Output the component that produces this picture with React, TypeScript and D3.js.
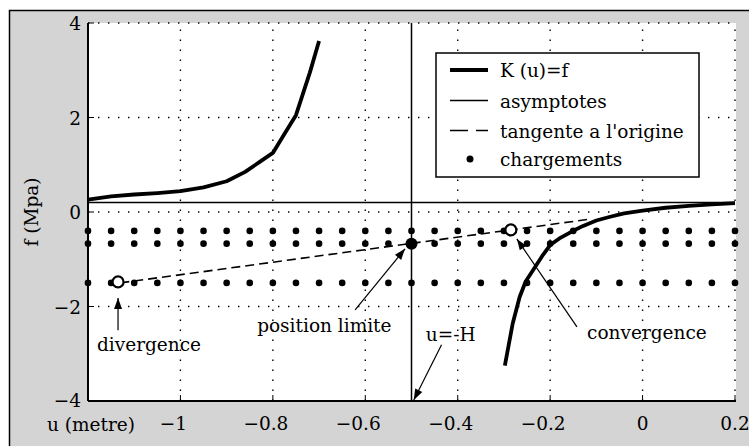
import React from 'react';
import * as d3 from 'd3';

const W = 749;
const H = 446;

// axes
const xTicks = [-1, -0.8, -0.6, -0.4, -0.2, 0, 0.2];
const yTicks = [-4, -2, 0, 2, 4];

// K(u)=f, branche gauche / branche droite
const leftBranchU = [-1.2, -1.15, -1.1, -1.05, -1.0, -0.95, -0.9, -0.86, -0.83, -0.8, -0.775, -0.75, -0.735, -0.72, -0.7];
const leftBranchF = [0.26, 0.33, 0.37, 0.4, 0.44, 0.52, 0.65, 0.85, 1.05, 1.25, 1.65, 2.05, 2.5, 2.95, 3.62];
const rightBranchU = [-0.298, -0.281, -0.266, -0.253, -0.235, -0.215, -0.2, -0.18, -0.158, -0.13, -0.1, -0.07, -0.04, 0, 0.05, 0.1, 0.15, 0.2];
const rightBranchF = [-3.25, -2.36, -1.8, -1.47, -1.2, -0.9, -0.7, -0.56, -0.44, -0.3, -0.18, -0.1, -0.03, 0.03, 0.09, 0.13, 0.16, 0.19];

// asymptotes et tangente
const asymptoteU = -0.5;
const asymptoteF = 0.2;
const tangentU = [-1.13, -0.12];
const tangentF = [-1.5, -0.16];

// chargements
const loadU = [-1.2, -1.15, -1.1, -1.05, -1.0, -0.95, -0.9, -0.85, -0.8, -0.75, -0.7, -0.65, -0.6, -0.55, -0.5,
  -0.45, -0.4, -0.35, -0.3, -0.25, -0.2, -0.15, -0.1, -0.05, 0, 0.05, 0.1, 0.15, 0.2];
const loadF = [-0.4, -0.67, -1.5];

const limitPoint: [number, number] = [-0.5, -0.67];
const divergencePoint: [number, number] = [-1.135, -1.48];
const convergencePoint: [number, number] = [-0.285, -0.38];

const legendLabels = ['K (u)=f', 'asymptotes', "tangente a l'origine", 'chargements'];

// annotations: texte (u, f) et fleche [depart, pointe]
const annotations = [
  { text: 'divergence', at: [-1.1805, -2.94], from: [-1.135, -2.5], to: [-1.135, -1.82] },
  { text: 'position limite', at: [-0.834, -2.54], from: [-0.622, -2.07], to: [-0.514, -0.78] },
  { text: 'u=-H', at: [-0.469, -2.73], from: [-0.435, -2.81], to: [-0.495, -3.98] },
  { text: 'convergence', at: [-0.12, -2.68], from: [-0.142, -2.43], to: [-0.272, -0.57] },
];

const font = 'DejaVu Serif';

const margin = { left: 88, right: 14, top: 23, bottom: 45 };

const T = (props: any) => <text fontFamily={font} fontSize={18.5} {...props} />;

const App = () => {
  const x = d3.scaleLinear().domain([-1.2, 0.2]).range([margin.left, W - margin.right]);
  const y = d3.scaleLinear().domain([-4, 4]).range([H - margin.bottom, margin.top]);
  const [x0, x1] = x.range();
  const [y0, y1] = y.range();

  const line = d3.line<[number, number]>().x(d => x(d[0])).y(d => y(d[1]));
  const left = leftBranchU.map((u, i) => [u, leftBranchF[i]] as [number, number]);
  const right = rightBranchU.map((u, i) => [u, rightBranchF[i]] as [number, number]);
  const tangent = tangentU.map((u, i) => [u, tangentF[i]] as [number, number]);

  const arrowHead = (fx: number, fy: number, tx: number, ty: number) => {
    const a = Math.atan2(ty - fy, tx - fx);
    const len = 11, hw = 4;
    const bx = tx - len * Math.cos(a), by = ty - len * Math.sin(a);
    const px = -Math.sin(a) * hw, py = Math.cos(a) * hw;
    return `${tx},${ty} ${bx + px},${by + py} ${bx - px},${by - py}`;
  };

  const fmt = (t: number) => (t < 0 ? '\u2212' + String(-t) : String(t));

  const legend = { x: 436, y: 53, w: 263, h: 124, rowY: [70, 100.5, 130.5, 159] };

  return (
    <svg width={W} height={H} style={{ position: 'absolute', left: 0, top: 0, background: '#fff' }}>
      <rect x={9.5} y={10.5} width={W} height={H} fill="#d4d4d4" stroke="#000" strokeWidth={1.5} />
      <rect x={x0} y={y1} width={x1 - x0 + 1} height={y0 - y1} fill="#fff" />

      {/* grille */}
      <g stroke="#000" strokeWidth={1.4} strokeDasharray="1.4,8.6">
        {xTicks.map(t => (
          <line key={'gx' + t} x1={x(t)} x2={x(t)} y1={y0} y2={y1} />
        ))}
        {yTicks.map(t => (
          <line key={'gy' + t} x1={x0} x2={x1} y1={y(t)} y2={y(t)} />
        ))}
      </g>

      {/* asymptotes */}
      <line x1={x0} x2={x1} y1={y(asymptoteF)} y2={y(asymptoteF)} stroke="#000" strokeWidth={1.5} />
      <line x1={x(asymptoteU)} x2={x(asymptoteU)} y1={y0} y2={y1} stroke="#000" strokeWidth={1.5} />

      {/* chargements */}
      <g fill="#000">
        {loadF.map(f => loadU.map(u => (
          <circle key={`${u}_${f}`} cx={x(u)} cy={y(f)} r={3.3} />
        )))}
      </g>

      {/* tangente */}
      <path d={line(tangent) || ''} fill="none" stroke="#000" strokeWidth={1.6} strokeDasharray="9,5" />

      {/* K(u)=f */}
      <path d={line(left) || ''} fill="none" stroke="#000" strokeWidth={3.8} strokeLinejoin="round" />
      <path d={line(right) || ''} fill="none" stroke="#000" strokeWidth={3.8} strokeLinejoin="round" />

      <circle cx={x(limitPoint[0])} cy={y(limitPoint[1])} r={6} fill="#000" />
      <circle cx={x(divergencePoint[0])} cy={y(divergencePoint[1])} r={5.5} fill="#fff" stroke="#000" strokeWidth={2.2} />
      <circle cx={x(convergencePoint[0])} cy={y(convergencePoint[1])} r={5.5} fill="#fff" stroke="#000" strokeWidth={2.2} />

      {/* axes */}
      <line x1={x0} x2={x0} y1={y0} y2={y1} stroke="#000" strokeWidth={2} />
      <line x1={x0} x2={x1 + 1} y1={y0} y2={y0} stroke="#000" strokeWidth={2} />
      <g stroke="#000" strokeWidth={1}>
        {xTicks.map(t => <line key={'tx' + t} x1={x(t)} x2={x(t)} y1={y0} y2={y0 - 6} />)}
        {yTicks.map(t => <line key={'ty' + t} x1={x0} x2={x0 + 6} y1={y(t)} y2={y(t)} />)}
      </g>
      {xTicks.map(t => (
        <T key={'lx' + t} x={x(t) - (t < 0 ? 7 : 0)} y={430} textAnchor="middle">{fmt(t)}</T>
      ))}
      {yTicks.map(t => (
        <T key={'ly' + t} x={81} y={y(t) + 7 - (t === -4 ? 1 : 0)} textAnchor="end">{fmt(t)}</T>
      ))}
      <T x={47} y={431}>u (metre)</T>
      <T transform={`translate(38,${(y0 + y1) / 2}) rotate(-90)`} textAnchor="middle">f (Mpa)</T>

      {/* annotations */}
      {annotations.map(a => {
        const fx = x(a.from[0]), fy = y(a.from[1]), tx = x(a.to[0]), ty = y(a.to[1]);
        return (
          <g key={a.text}>
            <T x={x(a.at[0])} y={y(a.at[1])}>{a.text}</T>
            <line x1={fx} y1={fy} x2={tx} y2={ty} stroke="#000" strokeWidth={1.2} />
            <polygon points={arrowHead(fx, fy, tx, ty)} fill="#000" />
          </g>
        );
      })}

      {/* legende */}
      <rect x={legend.x} y={legend.y} width={legend.w} height={legend.h} fill="#fff" stroke="#000" strokeWidth={1.5} />
      {legendLabels.map((lab, i) => {
        const ry = legend.rowY[i];
        return (
          <g key={lab}>
            {i === 0 && <line x1={450} x2={488} y1={ry} y2={ry} stroke="#000" strokeWidth={4} />}
            {i === 1 && <line x1={450} x2={488} y1={ry} y2={ry} stroke="#000" strokeWidth={1.5} />}
            {i === 2 && <line x1={450} x2={488} y1={ry} y2={ry} stroke="#000" strokeWidth={1.5} strokeDasharray="18,8" />}
            {i === 3 && <circle cx={470} cy={ry} r={3.5} fill="#000" />}
            <T x={500} y={ry + 7}>{lab}</T>
          </g>
        );
      })}
    </svg>
  );
};

export default App;
